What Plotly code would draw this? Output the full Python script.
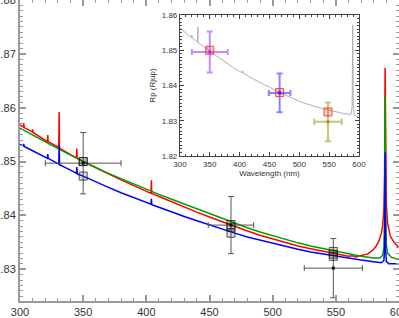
import plotly.graph_objects as go

# ---------------- main panel model spectra ----------------
red_wl = [300, 302.7, 303, 303.3, 309.7, 310, 310.3, 320, 321.7, 322, 322.3, 330, 330.7, 331, 331.3,
          340, 344.7, 345, 345.3, 350, 360, 370, 380, 390, 400, 403.7, 404, 404.3, 410, 420, 430,
          440, 450, 460, 470, 480, 490, 500, 510, 520, 530, 540, 550, 555, 560, 563, 566, 569, 572,
          575, 578, 580, 582, 584, 586, 587, 588, 588.6, 589, 589.4, 590, 591, 593, 596, 600]
red_rp = [1.8568, 1.8564, 1.8571, 1.8563, 1.8555, 1.8560, 1.8554, 1.8540, 1.8537, 1.8549, 1.8537,
          1.8527, 1.8526, 1.8592, 1.8525, 1.8513, 1.8507, 1.8524, 1.8506, 1.8500, 1.8488, 1.8477,
          1.8466, 1.8455, 1.8445, 1.8441, 1.8465, 1.8441, 1.8435, 1.8425, 1.8415, 1.8406, 1.8397,
          1.8388, 1.8379, 1.8371, 1.8363, 1.8356, 1.8349, 1.8343, 1.8338, 1.8333, 1.8328, 1.8326,
          1.8324, 1.8325, 1.8323, 1.8325, 1.8326, 1.8328, 1.8333, 1.8337, 1.8343, 1.8352, 1.8366,
          1.8380, 1.8410, 1.8480, 1.8674, 1.8500, 1.8420, 1.8385, 1.8362, 1.8350, 1.8340]

green_wl = [300, 310, 320, 330, 340, 350, 360, 370, 380, 390, 400, 410, 420, 430, 440, 450, 460,
            470, 480, 490, 500, 510, 520, 530, 540, 550, 560, 570, 580, 585, 587, 588, 588.6, 589,
            589.4, 590, 591, 594, 600]
green_rp = [1.8562, 1.8549, 1.8536, 1.8524, 1.8512, 1.8500, 1.8489, 1.8478, 1.8468, 1.8458, 1.8448,
            1.8439, 1.8430, 1.8421, 1.8412, 1.8403, 1.8394, 1.8385, 1.8377, 1.8369, 1.8362, 1.8355,
            1.8349, 1.8343, 1.8338, 1.8333, 1.8328, 1.8324, 1.8321, 1.8321, 1.8326, 1.8340, 1.8400,
            1.8623, 1.8420, 1.8345, 1.8330, 1.8322, 1.8318]

blue_wl = [300, 302.7, 303, 303.3, 310, 320, 321.7, 322, 322.3, 330, 330.7, 331, 331.3, 340, 344.7,
           345, 345.3, 350, 360, 370, 380, 390, 400, 403.7, 404, 404.3, 410, 420, 430, 440, 450,
           460, 470, 480, 490, 500, 510, 520, 530, 540, 550, 560, 570, 580, 586, 588, 588.7, 589,
           589.3, 590, 592, 600]
blue_rp = [1.8532, 1.8529, 1.8533, 1.8528, 1.8520, 1.8508, 1.8506, 1.8514, 1.8506, 1.8496, 1.8495,
           1.8530, 1.8494, 1.8484, 1.8478, 1.8490, 1.8477, 1.8473, 1.8462, 1.8452, 1.8442, 1.8433,
           1.8424, 1.8421, 1.8431, 1.8420, 1.8415, 1.8406, 1.8398, 1.8390, 1.8382, 1.8375, 1.8367,
           1.8360, 1.8354, 1.8348, 1.8342, 1.8337, 1.8332, 1.8328, 1.8324, 1.8320, 1.8317, 1.8314,
           1.8312, 1.8316, 1.8340, 1.8517, 1.8340, 1.8314, 1.8310, 1.8310]

# ---------------- main panel observations & binned models ----------------
obs_wl = [350, 467, 548]
obs_rp = [1.8497, 1.8382, 1.8302]
obs_xerr = [30, 18, 23]
obs_yerr = [0.0057, 0.0053, 0.0055]
red_bin = [1.8500, 1.8378, 1.8328]
green_bin = [1.8500, 1.8383, 1.8333]
blue_bin = [1.8473, 1.8367, 1.8324]

# ---------------- inset ----------------
ins_wl = [300, 310, 319.7, 320, 320.3, 329.7, 330, 330.3, 340, 344.7, 345, 345.3, 350, 360, 370, 380,
          390, 400, 404.7, 405, 405.3, 420, 435, 450, 467, 485, 500, 525, 550, 570, 585, 587, 588.5,
          589.5, 590.5, 592, 596, 600]
ins_rp = [1.8563, 1.8549, 1.8535, 1.8543, 1.8535, 1.8522, 1.8566, 1.8522, 1.8510, 1.8503, 1.8510,
          1.8503, 1.8497, 1.8485, 1.8473, 1.8461, 1.8450, 1.8440, 1.8436, 1.8442, 1.8436, 1.8421,
          1.8407, 1.8395, 1.8380, 1.8366, 1.8355, 1.8341, 1.8330, 1.8322, 1.8318, 1.8320, 1.8340,
          1.8572, 1.8340, 1.8316, 1.8312, 1.8310]
ins_obs_wl = [350, 467, 548]
ins_obs_rp = [1.8495, 1.8379, 1.8297]
ins_xerr = [30, 18, 23]
ins_yerr = [0.0058, 0.0055, 0.0055]
ins_colors = ["#a040ff", "#2020ff", "#a0a010"]
ins_bar_colors = ["rgba(160,64,255,0.6)", "rgba(32,32,255,0.55)", "rgba(160,160,16,0.6)"]
ins_model_rp = [1.8500, 1.8380, 1.8325]

fig = go.Figure()

for wl, rp, col in [(red_wl, red_rp, "#ff0000"), (green_wl, green_rp, "#00a000"),
                    (blue_wl, blue_rp, "#0000ff")]:
    fig.add_trace(go.Scatter(x=wl, y=rp, mode="lines", line=dict(color=col, width=1.5),
                             xaxis="x", yaxis="y", showlegend=False, hoverinfo="skip"))

fig.add_trace(go.Scatter(
    x=obs_wl, y=obs_rp, mode="markers",
    marker=dict(symbol="square", size=3, color="#111"),
    error_x=dict(type="data", array=obs_xerr, color="#555", thickness=1, width=3),
    error_y=dict(type="data", array=obs_yerr, color="#555", thickness=1, width=3),
    xaxis="x", yaxis="y", showlegend=False))

for b in (red_bin, green_bin, blue_bin):
    fig.add_trace(go.Scatter(
        x=obs_wl, y=b, mode="markers",
        marker=dict(symbol="square", size=8, color="rgba(0,0,0,0.12)",
                    line=dict(color="rgba(30,30,30,0.75)", width=1)),
        xaxis="x", yaxis="y", showlegend=False))

# inset
fig.add_trace(go.Scatter(x=ins_wl, y=ins_rp, mode="lines", line=dict(color="#b0b0b0", width=1),
                         xaxis="x2", yaxis="y2", showlegend=False))
for i in range(len(ins_obs_wl)):
    fig.add_trace(go.Scatter(
        x=[ins_obs_wl[i]], y=[ins_obs_rp[i]], mode="markers",
        marker=dict(symbol="square", size=3, color=ins_colors[i]),
        error_x=dict(type="data", array=[ins_xerr[i]], color=ins_bar_colors[i], thickness=2, width=3),
        error_y=dict(type="data", array=[ins_yerr[i]], color=ins_bar_colors[i], thickness=2, width=3),
        xaxis="x2", yaxis="y2", showlegend=False))
fig.add_trace(go.Scatter(
    x=ins_obs_wl, y=ins_model_rp, mode="markers",
    marker=dict(symbol="square", size=8, color="rgba(255,0,0,0.18)",
                line=dict(color="rgba(255,40,40,0.85)", width=1)),
    xaxis="x2", yaxis="y2", showlegend=False))

font = "Liberation Sans, Arial, sans-serif"
axcommon = dict(showgrid=False, zeroline=False, showline=True, mirror="ticks", ticks="inside",
                automargin=False)

fig.update_layout(
    width=399, height=318,
    margin=dict(l=20, r=0, t=0, b=17, autoexpand=False),
    paper_bgcolor="white", plot_bgcolor="white",
    font=dict(family=font, color="#333"),
    xaxis=dict(**axcommon, domain=[0, 1], range=[300, 600], tick0=300, dtick=50,
               ticklabeloverflow="allow",
               linecolor="#999", linewidth=2, tickcolor="#999", ticklen=6, tickwidth=1.5,
               tickfont=dict(size=11, color="#333"),
               minor=dict(dtick=10, ticks="inside", ticklen=3, tickcolor="#999", tickwidth=1)),
    yaxis=dict(**axcommon, domain=[0, 1], range=[1.8241, 1.8800], tick0=1.80, dtick=0.01,
               ticklabeloverflow="allow",
               tickformat=".2f", linecolor="#999", linewidth=2, tickcolor="#999", ticklen=6,
               tickwidth=1.5, tickfont=dict(size=11, color="#333"),
               minor=dict(dtick=0.001, ticks="inside", ticklen=3, tickcolor="#999", tickwidth=1)),
    xaxis2=dict(**axcommon, domain=[0.422, 0.8945], anchor="y2", range=[300, 600], tick0=300,
                dtick=50, linecolor="#444", linewidth=1, tickcolor="#444", ticklen=4,
                tickfont=dict(size=8, color="#333"),
                title=dict(text="Wavelength (nm)", font=dict(size=8, color="#333"), standoff=2),
                minor=dict(dtick=10, ticks="inside", ticklen=2, tickcolor="#444")),
    yaxis2=dict(**axcommon, domain=[0.4817, 0.9502], anchor="x2", range=[1.82, 1.86], tick0=1.82,
                dtick=0.01, tickformat=".2f", linecolor="#444", linewidth=1, tickcolor="#444",
                ticklen=4, tickfont=dict(size=8, color="#333"),
                title=dict(text="Rp (Rjup)", font=dict(size=8, color="#333"), standoff=4),
                minor=dict(dtick=0.001, ticks="inside", ticklen=2, tickcolor="#444")),
)

fig.write_html("out.html", config={"displayModeBar": False},
               post_script="document.body.style.margin='0';document.body.style.overflow='hidden';")
